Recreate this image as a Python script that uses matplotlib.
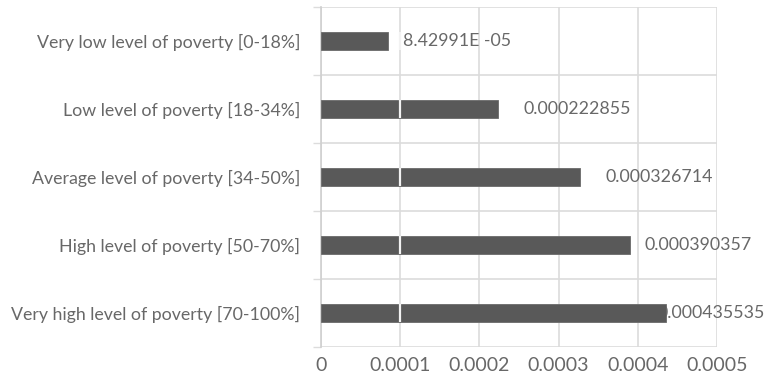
import matplotlib
matplotlib.use("Agg")
import matplotlib.pyplot as plt
import numpy as np

# Categories listed top to bottom
categories = [
    "Very low level of poverty [0-18%]",
    "Low level of poverty [18-34%]",
    "Average level of poverty [34-50%]",
    "High level of poverty [50-70%]",
    "Very high level of poverty [70-100%]",
]
values = [8.42991e-05, 0.000222855, 0.000326714, 0.000390357, 0.000435535]
value_labels = ["8.42991E -05", "0.000222855", "0.000326714", "0.000390357", "0.000435535"]
x_ticks = [0, 0.0001, 0.0002, 0.0003, 0.0004, 0.0005]
x_tick_labels = ["0", "0.0001", "0.0002", "0.0003", "0.0004", "0.0005"]

# Horizontal gap (pixels) between each bar end and its value label
label_offsets_px = [15, 26, 26, 14, -8]

plt.rcParams["font.family"] = ["Lato", "DejaVu Sans"]
TEXT = "#686868"
BAR = "#595959"
GRID = "#dcdcdc"

fig = plt.figure(figsize=(7.65, 3.75), dpi=100)
ax = fig.add_axes([321 / 765, 1 - 347 / 375, (717 - 321) / 765, (347 - 7) / 375])

y = np.arange(len(categories))
bar_h = 0.27
ax.barh(y, values, height=bar_h, color=BAR, edgecolor="#6a6a6a", linewidth=0.6, zorder=3)

# thin light line crossing the bars at the first gridline
ax.vlines([x_ticks[1]] * len(y), y - bar_h / 2, y + bar_h / 2, colors="#f2f2f2",
          linewidth=1.6, zorder=4)

ax.set_xlim(0, 0.0005)
ax.set_ylim(len(categories) - 0.5, -0.5)

ax.set_xticks(x_ticks)
ax.set_xticklabels(x_tick_labels, fontsize=14, color=TEXT)
ax.tick_params(axis="x", length=0, pad=7)

ax.set_yticks(y)
ax.set_yticklabels(categories, fontsize=12.8, color=TEXT)
ax.set_yticks(np.arange(len(categories) + 1) - 0.5, minor=True)
ax.tick_params(axis="y", which="major", length=0, pad=15)
ax.tick_params(axis="y", which="minor", length=6, width=1, color=GRID)

ax.grid(axis="x", color=GRID, linewidth=1.2, zorder=0)
ax.grid(axis="y", which="minor", color=GRID, linewidth=1.2, zorder=0)
ax.set_axisbelow(True)

for s in ["top", "right", "bottom"]:
    ax.spines[s].set_visible(False)
ax.spines["left"].set_color("#cfcfcf")
ax.spines["left"].set_linewidth(1.2)

for yi, v, lab, off in zip(y, values, value_labels, label_offsets_px):
    ax.annotate(lab, xy=(v, yi), xytext=(off * 0.72, 0), textcoords="offset points",
                ha="left", va="center", fontsize=12.8, color=TEXT, zorder=2,
                annotation_clip=False)

fig.savefig("out.png", dpi=100, facecolor="white")
